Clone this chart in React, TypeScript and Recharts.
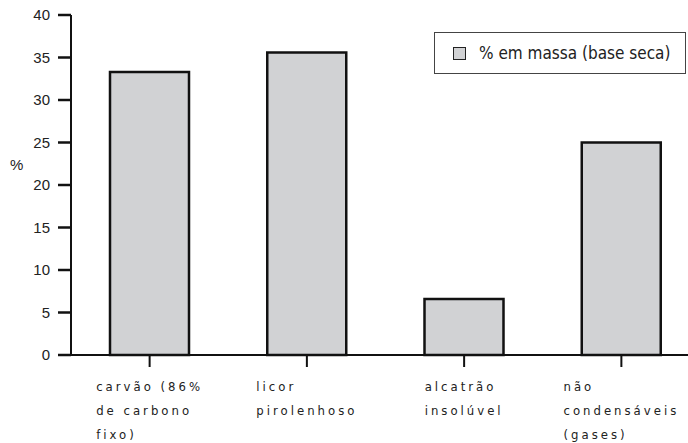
import { BarChart, Bar, XAxis, YAxis } from "recharts"

const categories = ["carvão (86% de carbono fixo)", "licor pirolenhoso", "alcatrão insolúvel", "não condensáveis (gases)"]
const categoryLines = [
  ["carvão (86%", "de carbono", "fixo)"],
  ["licor", "pirolenhoso"],
  ["alcatrão", "insolúvel"],
  ["não", "condensáveis", "(gases)"],
]
const massPercent = [33.3, 35.6, 6.6, 25.0]
const yTicks = [0, 5, 10, 15, 20, 25, 30, 35, 40]
const seriesName = "% em massa (base seca)"

const data = categories.map((c, i) => ({ category: c, value: massPercent[i] }))

const FONT = '"Liberation Sans Narrow", "DejaVu Sans Condensed", Arial, sans-serif'
const LABEL_SIZE = 13
const SPACING = 3

let ctx: CanvasRenderingContext2D | null = null
function textWidth(s: string) {
  if (!ctx) ctx = document.createElement("canvas").getContext("2d")
  if (!ctx) return s.length * 9
  ctx.font = `${LABEL_SIZE}px ${FONT}`
  return ctx.measureText(s).width + SPACING * s.length
}

function CategoryTick(props: any) {
  const { x, y, index } = props
  const lines = categoryLines[index] || []
  const widest = Math.max(...lines.map(textWidth))
  const left = x - widest / 2
  return (
    <g>
      {lines.map((l, i) => (
        <text
          key={i}
          x={left}
          y={y + 22 + i * 24}
          textAnchor="start"
          fontFamily={FONT}
          fontSize={LABEL_SIZE}
          fill="#222"
          style={{ letterSpacing: SPACING }}
        >
          {l}
        </text>
      ))}
    </g>
  )
}

function LegendBox() {
  return (
    <div
      style={{
        position: "absolute",
        top: 32,
        left: 434,
        width: 252,
        height: 42,
        border: "1.5px solid #444",
        background: "#fff",
        display: "flex",
        alignItems: "center",
        boxSizing: "border-box",
        fontFamily: FONT,
        fontSize: 17,
        color: "#222",
      }}
    >
      <span style={{ display: "inline-block", width: 11, height: 11, background: "#d1d2d4", border: "1.5px solid #222", marginLeft: 18, marginRight: 13 }} />
      {seriesName}
    </div>
  )
}

export default function App() {
  return (
    <div style={{ position: "absolute", left: 0, top: 0, width: 688, height: 443, overflow: "hidden", background: "#fff" }}>
      <BarChart width={700} height={443} data={data} margin={{ top: 15, right: 0, left: 0, bottom: 0 }}>
        <XAxis
          dataKey="category"
          height={88}
          stroke="#111"
          strokeWidth={2}
          tickSize={12}
          tickLine={{ stroke: "#111", strokeWidth: 2 }}
          tick={<CategoryTick />}
          interval={0}
        />
        <YAxis
          domain={[0, 40]}
          ticks={yTicks}
          width={71}
          stroke="#111"
          strokeWidth={2}
          tickSize={13}
          tickMargin={8}
          tickLine={{ stroke: "#111", strokeWidth: 2.5 }}
          tick={{ fill: "#222", fontSize: 15, fontFamily: "Liberation Sans, Arial, sans-serif" }}
          label={{ value: "%", position: "insideLeft", offset: 10, dy: -20, fill: "#222", fontSize: 15, fontFamily: "Liberation Sans, Arial, sans-serif" }}
        />
        <Bar dataKey="value" name={seriesName} fill="#d1d2d4" stroke="#111" strokeWidth={2.5} barSize={79} isAnimationActive={false} />
      </BarChart>
      <LegendBox />
    </div>
  )
}
